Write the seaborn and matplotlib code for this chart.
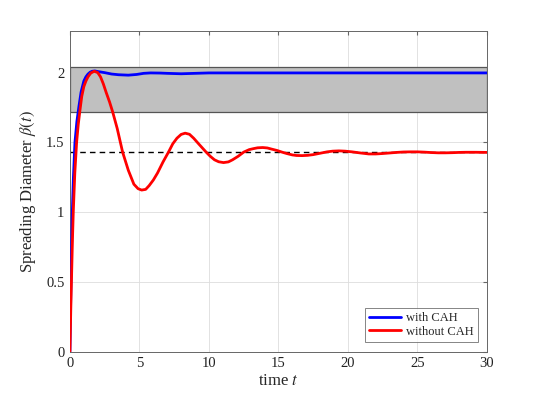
import matplotlib
matplotlib.use("Agg")
import matplotlib.pyplot as plt
import seaborn as sns
import pandas as pd

# values
t_cah = [0, 0.05, 0.1, 0.17, 0.25, 0.36, 0.5, 0.65, 0.8, 1.0, 1.15, 1.3, 1.45, 1.6, 1.8, 2.0, 2.5, 3.0,
         3.5, 4.2, 4.8, 5.3, 5.8, 6.5, 7.0, 8.0, 9.0, 10, 12, 15, 20, 25, 30]
beta_cah = [0, 0.35, 0.65, 1.0, 1.25, 1.5, 1.65, 1.76, 1.86, 1.94, 1.97, 1.99, 2.003, 2.01, 2.012, 2.008,
            2.0, 1.99, 1.985, 1.982, 1.987, 1.995, 1.998, 1.997, 1.995, 1.992, 1.995, 1.998, 1.998, 1.998,
            1.998, 1.998, 1.998]

t_nocah = [0, 0.06, 0.12, 0.18, 0.24, 0.35, 0.48, 0.6, 0.72, 0.85, 1.0, 1.15, 1.3, 1.5, 1.75, 2.0, 2.2,
           2.4, 2.6, 2.85, 3.07, 3.4, 3.79, 4.2, 4.6, 4.9, 5.16, 5.45, 5.7, 6.0, 6.3, 6.7, 7.09, 7.4, 7.7,
           8.0, 8.29, 8.6, 8.9, 9.3, 9.8, 10.1, 10.4, 10.7, 11.05, 11.4, 11.7, 12.1, 12.5, 12.9, 13.2,
           13.5, 13.87, 14.2, 14.5, 14.9, 15.26, 15.6, 16.0, 16.3, 16.7, 17.1, 17.5, 18.0, 18.5, 18.9,
           19.35, 19.8, 20.3, 20.9, 21.5, 22.0, 22.5, 23.0, 23.5, 24.0, 24.5, 25.0, 25.5, 26.0, 26.5,
           27.0, 27.5, 28.0, 28.5, 29.2, 30]
beta_nocah = [0, 0.3, 0.55, 0.8, 1.0, 1.28, 1.5, 1.63, 1.73, 1.83, 1.9, 1.94, 1.97, 1.997, 2.01, 2.0, 1.97,
              1.92, 1.86, 1.79, 1.72, 1.6, 1.43, 1.3, 1.2, 1.168, 1.158, 1.163, 1.19, 1.23, 1.28, 1.36, 1.43,
              1.49, 1.53, 1.557, 1.566, 1.558, 1.53, 1.485, 1.43, 1.4, 1.375, 1.361, 1.355, 1.36, 1.375,
              1.4, 1.43, 1.448, 1.455, 1.461, 1.463, 1.46, 1.452, 1.442, 1.43, 1.42, 1.41, 1.406, 1.405,
              1.407, 1.412, 1.422, 1.432, 1.437, 1.439, 1.437, 1.432, 1.424, 1.417, 1.417, 1.42, 1.424,
              1.428, 1.431, 1.432, 1.432, 1.43, 1.427, 1.425, 1.425, 1.426, 1.428, 1.429, 1.429, 1.428]

band = (1.72, 2.04)
beta_eq = 1.43

sns.set_style("white")
plt.rcParams['font.family'] = ['Liberation Serif', 'DejaVu Serif']
plt.rcParams['mathtext.fontset'] = 'stix'

df = pd.concat([
    pd.DataFrame({"t": t_cah, "beta": beta_cah, "case": "with CAH"}),
    pd.DataFrame({"t": t_nocah, "beta": beta_nocah, "case": "without CAH"}),
])

fig = plt.figure(figsize=(5.38, 3.95), dpi=100)
ax = fig.add_axes([0.13, 0.11, 0.775, 0.812])

ax.axhspan(band[0], band[1], facecolor='#c0c0c0', edgecolor='#555555', lw=0.9, zorder=1)
ax.axhline(beta_eq, color='k', ls=(0, (4, 3)), lw=1.0, zorder=2)
sns.lineplot(data=df, x="t", y="beta", hue="case", palette=["#0000ff", "#ff0000"],
             lw=2.0, ax=ax, sort=False, zorder=3)

ax.set_xlim(0, 30)
ax.set_ylim(0, 2.3)
ax.set_xticks([0, 5, 10, 15, 20, 25, 30])
ax.set_yticks([0, 0.5, 1, 1.5, 2])
ax.set_yticklabels(['0', '0.5', '1', '1.5', '2'])
ax.grid(True, color='#dddddd', lw=0.6)
ax.set_axisbelow(True)
for s in ax.spines.values():
    s.set_color('#666666')
    s.set_linewidth(0.7)
ax.tick_params(direction='in', length=3, color='#666666', labelsize=10.5, top=True, right=True,
               labelcolor='#222222', pad=4)
ax.set_xlabel("time $t$", fontsize=12, labelpad=2)
ax.set_ylabel(r"Spreading Diameter $\beta(t)$", fontsize=12, labelpad=6)

leg = ax.legend(loc='lower right', fontsize=9, frameon=True, fancybox=False,
                edgecolor='#666666', handlelength=2.5, borderaxespad=0.75, labelspacing=0.15,
                borderpad=0.35, handletextpad=0.4)
leg.get_frame().set_linewidth(0.7)
for h in leg.get_lines():
    h.set_linewidth(2.0)

fig.savefig("out.png", dpi=100)
